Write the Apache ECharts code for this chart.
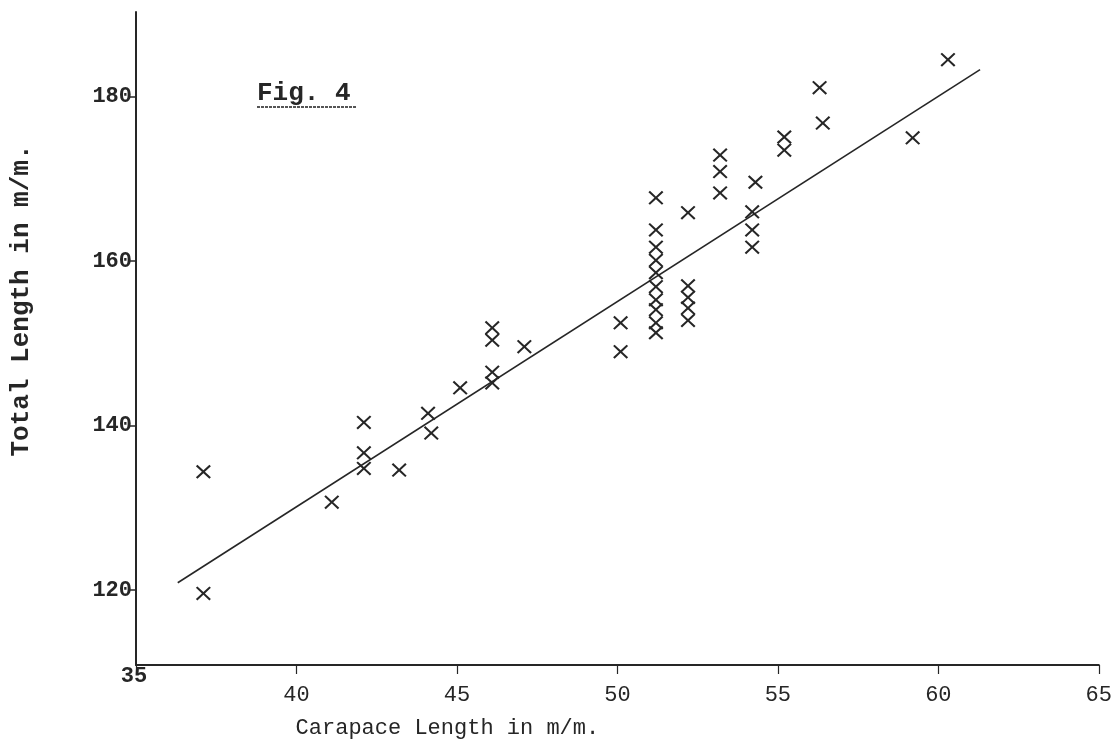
<!DOCTYPE html>
<html lang="en" style="height: 100%">
<head>
<meta charset="utf-8">
<title>Fig. 4 Carapace vs Total Length</title>
</head>
<body style="height: 100%; margin: 0; background: #fff">
<div id="container" style="height: 100%"></div>

<script type="text/javascript" src="https://cdn.jsdelivr.net/npm/echarts/dist/echarts.min.js"></script>

<script type="text/javascript">

var carapace = [
    37.1, 37.1, 41.1, 42.1, 42.1, 42.1, 43.2, 44.1, 44.2, 45.1,
    46.1, 46.1, 46.1, 46.1, 47.1, 50.1, 50.1,
    51.2, 51.2, 51.2, 51.2, 51.2, 51.2, 51.2, 51.2, 51.2, 51.2,
    52.2, 52.2, 52.2, 52.2, 52.2,
    53.2, 53.2, 53.2, 54.3, 54.2, 54.2, 54.2,
    55.2, 55.2, 56.3, 56.4, 59.2, 60.3
];
var totalLength = [
    134.4, 119.6, 130.7, 140.4, 136.7, 134.8, 134.6, 141.5, 139.1, 144.6,
    151.9, 150.4, 146.5, 145.2, 149.6, 152.5, 149.0,
    167.7, 163.8, 161.7, 160.1, 158.6, 156.9, 155.3, 154.1, 152.5, 151.3,
    165.9, 157.0, 155.6, 154.3, 152.8,
    172.9, 170.9, 168.3, 169.6, 166.0, 163.8, 161.7,
    175.1, 173.5, 181.1, 176.8, 175.0, 184.5
];
var fitX = [36.3, 61.3];
var fitY = [120.9, 183.3];

var xTicks = [35, 40, 45, 50, 55, 60, 65];
var yTicks = [120, 140, 160, 180];

var ink = '#262626';
var typeFont = '"Liberation Mono", "DejaVu Sans Mono", monospace';

var dom = document.getElementById('container');
var myChart = echarts.init(dom);

var points = carapace.map(function (x, i) { return [x, totalLength[i]]; });
var fitLine = fitX.map(function (x, i) { return [x, fitY[i]]; });

var option = {
    backgroundColor: '#fff',
    animation: false,
    grid: { left: 131, right: 15, top: 12, bottom: 79 },
    xAxis: {
        type: 'value',
        min: 35,
        max: 65,
        interval: 5,
        name: 'Carapace Length in m/m.',
        nameLocation: 'middle',
        nameGap: 52,
        nameTextStyle: {
            fontFamily: typeFont, fontSize: 22, color: ink,
            padding: [0, 340, 0, 0]
        },
        axisLine: { lineStyle: { color: ink, width: 2 } },
        axisTick: { show: true, length: 9, lineStyle: { color: ink, width: 1.2 } },
        splitLine: { show: false },
        axisLabel: {
            margin: 0,
            fontFamily: typeFont,
            fontSize: 22,
            color: ink,
            formatter: function (v) {
                return xTicks[0] === v ? '{o|' + v + '}' : '{n|' + v + '}';
            },
            rich: {
                o: { fontFamily: typeFont, fontSize: 22, color: ink, fontWeight: 'bold', padding: [0, 4, 0, 0] },
                n: { fontFamily: typeFont, fontSize: 22, color: ink, padding: [19, 0, 0, 0] }
            }
        }
    },
    yAxis: {
        type: 'value',
        min: 110.9,
        max: 190.3,
        interval: 20,
        name: 'Total Length in m/m.',
        nameLocation: 'middle',
        nameGap: 102,
        nameRotate: 90,
        nameTextStyle: {
            fontFamily: typeFont, fontSize: 26, fontWeight: 'bold', color: ink,
            padding: [0, 0, 0, 76]
        },
        axisLine: { lineStyle: { color: ink, width: 2 } },
        axisTick: { show: true, length: 6, customValues: yTicks, lineStyle: { color: ink, width: 1.5 } },
        splitLine: { show: false },
        axisLabel: {
            margin: 4,
            fontFamily: typeFont,
            fontSize: 22,
            fontWeight: 'bold',
            color: ink,
            customValues: yTicks
        }
    },
    graphic: [
        {
            type: 'text',
            left: 257,
            top: 80,
            style: { text: 'Fig. 4', font: 'bold 26px ' + typeFont, fill: ink }
        },
        {
            type: 'line',
            shape: { x1: 257, y1: 107, x2: 357, y2: 107 },
            style: { stroke: '#555', lineWidth: 2, lineDash: [3, 1] }
        }
    ],
    series: [
        {
            type: 'line',
            data: fitLine,
            symbol: 'none',
            lineStyle: { color: ink, width: 1.6 },
            silent: true
        },
        {
            type: 'scatter',
            data: points,
            symbol: 'path://M0,1 L1,0 L5,4 L9,0 L10,1 L6,5 L10,9 L9,10 L5,6 L1,10 L0,9 L4,5 Z',
            symbolSize: [15, 14],
            itemStyle: { color: ink, opacity: 1 }
        }
    ]
};

myChart.setOption(option);
window.addEventListener('resize', myChart.resize);
</script>
</body>
</html>
